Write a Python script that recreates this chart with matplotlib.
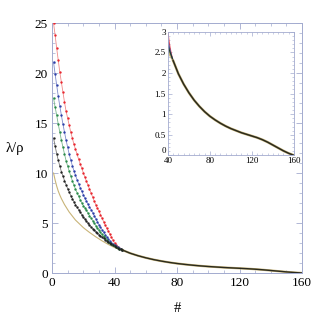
import numpy as np
import matplotlib
matplotlib.use("Agg")
import matplotlib.pyplot as plt
from matplotlib.ticker import MultipleLocator, FuncFormatter

# ---- data ----
t_head = list(range(1, 46))
red = [25.0, 23.8, 22.5, 21.3, 20.1, 19.1, 18.1, 17.1, 16.2, 15.5,
       14.8, 14.1, 13.5, 12.9, 12.4, 11.9, 11.4, 10.95, 10.5, 10.05,
       9.6, 9.2, 8.8, 8.4, 8.0, 7.6, 7.2, 6.85, 6.5, 6.2,
       5.85, 5.5, 5.15, 4.8, 4.5, 4.2, 3.9, 3.6, 3.3, 3.0,
       2.8, 2.63, 2.5, 2.39, 2.3]
blue = [21.1, 19.9, 18.8, 17.7, 16.7, 15.8, 14.9, 14.1, 13.3, 12.6,
        11.9, 11.3, 10.75, 10.25, 9.8, 9.35, 8.95, 8.55, 8.2, 7.85,
        7.5, 7.2, 6.9, 6.6, 6.35, 6.05, 5.75, 5.45, 5.15, 4.85,
        4.6, 4.35, 4.1, 3.85, 3.6, 3.4, 3.2, 3.05, 2.92, 2.8,
        2.68, 2.56, 2.46, 2.38, 2.3]
green = [17.5, 16.6, 15.8, 14.9, 14.1, 13.3, 12.6, 11.9, 11.25, 10.7,
         10.2, 9.7, 9.25, 8.8, 8.4, 8.05, 7.7, 7.35, 7.05, 6.75,
         6.55, 6.3, 6.0, 5.75, 5.5, 5.25, 5.0, 4.75, 4.5, 4.28,
         4.06, 3.86, 3.66, 3.47, 3.3, 3.15, 3.0, 2.88, 2.78, 2.68,
         2.59, 2.51, 2.44, 2.37, 2.3]
black = [13.5, 12.7, 11.95, 11.3, 10.7, 10.15, 9.7, 9.25, 8.85, 8.45,
         8.1, 7.75, 7.45, 7.15, 6.85, 6.6, 6.35, 6.1, 5.85, 5.6,
         5.4, 5.2, 5.0, 4.8, 4.6, 4.45, 4.3, 4.15, 4.0, 3.85,
         3.72, 3.6, 3.47, 3.35, 3.22, 3.1, 2.98, 2.88, 2.78, 2.68,
         2.59, 2.51, 2.44, 2.37, 2.3]
tan = [10.0, 9.3, 8.7, 8.2, 7.8, 7.45, 7.15, 6.85, 6.6, 6.35,
       6.1, 5.9, 5.7, 5.5, 5.3, 5.15, 5.0, 4.85, 4.7, 4.55,
       4.42, 4.3, 4.18, 4.06, 3.95, 3.84, 3.73, 3.62, 3.52, 3.42,
       3.32, 3.22, 3.13, 3.04, 2.95, 2.86, 2.78, 2.7, 2.62, 2.55,
       2.49, 2.43, 2.38, 2.34, 2.3]
t_tail = [45, 50, 55, 60, 65, 70, 75, 80, 85, 90, 95, 100, 105, 110,
          115, 120, 125, 130, 135, 140, 145, 150, 155, 160]
tail = [2.3, 1.98, 1.73, 1.52, 1.34, 1.19, 1.06, 0.95, 0.86, 0.78, 0.71,
        0.65, 0.6, 0.55, 0.51, 0.47, 0.43, 0.38, 0.32, 0.25, 0.18, 0.11,
        0.05, 0.0]

main_xticks = [0, 40, 80, 120, 160]
main_yticks = [0, 5, 10, 15, 20, 25]
inset_xticks = [40, 80, 120, 160]
inset_yticks = [0, 0.5, 1, 1.5, 2, 2.5, 3]

marked = [(red, '#e8262e', '#f08a8a'),
          (blue, '#2c3ea8', '#7f8ccc'),
          (green, '#2a8a4a', '#7ab88e'),
          (black, '#222222', '#777777')]

plt.rcParams['font.family'] = ['Liberation Serif', 'DejaVu Serif']
frame_col = '#a3abcf'

fig = plt.figure(figsize=(3.15, 3.25), dpi=100)
ax = fig.add_axes([0.165, 0.160, 0.794, 0.769])

ax.plot(t_head, tan, color='#c8b478', lw=0.8, zorder=2)
for vals, mc, lc in marked:
    ax.plot(t_head, vals, color=lc, lw=0.6, zorder=3)
    ax.plot(t_head, vals, ls='none', marker='o', ms=1.7, mfc=mc, mec=mc,
            mew=0, zorder=4)
ax.plot(t_tail, tail, color='#c8b478', lw=1.6, zorder=2)
ax.plot(t_tail, tail, color='#2a2a1e', lw=1.0, zorder=5)

ax.set_xlim(0, 160)
ax.set_ylim(0, 25)
ax.set_xticks(main_xticks)
ax.set_yticks(main_yticks)
ax.xaxis.set_minor_locator(MultipleLocator(10))
ax.yaxis.set_minor_locator(MultipleLocator(1))
ax.tick_params(which='both', direction='in', top=True, right=True,
               color=frame_col, labelsize=9.5, pad=3)
ax.tick_params(which='major', length=4, width=0.6)
ax.tick_params(which='minor', length=2, width=0.5)
for s in ax.spines.values():
    s.set_color(frame_col)
    s.set_linewidth(0.7)
ax.set_ylabel('λ/ρ', rotation=0, fontsize=10.5, labelpad=14, va='center')
ax.set_xlabel('#', fontsize=10.5, labelpad=9)

# ---- inset ----
ins = fig.add_axes([0.533, 0.522, 0.400, 0.380])
ins.plot(t_head[39:], tan[39:], color='#c8b478', lw=1.2)
for vals, mc, lc in marked:
    ins.plot(t_head[39:], vals[39:], color=mc, lw=0.8, alpha=0.8)
ins.plot(t_tail, tail, color='#c8b478', lw=1.8)
ins.plot(t_tail, tail, color='#2a2a1e', lw=1.1)
ins.set_xlim(40, 160)
ins.set_ylim(0, 3)
ins.set_xticks(inset_xticks)
ins.set_yticks(inset_yticks)
ins.xaxis.set_minor_locator(MultipleLocator(5))
ins.yaxis.set_minor_locator(MultipleLocator(0.1))
ins.yaxis.set_major_formatter(FuncFormatter(lambda v, p: f'{v:g}'))
ins.tick_params(which='both', direction='in', top=True, right=True,
                color=frame_col, labelsize=6.5, pad=1.5)
ins.tick_params(axis='x', pad=1.0)
ins.tick_params(which='major', length=3, width=0.5)
ins.tick_params(which='minor', length=1.5, width=0.4)
for s in ins.spines.values():
    s.set_color(frame_col)
    s.set_linewidth(0.6)
fig.canvas.draw()
ins.get_yticklabels()[0].set_va('bottom')

fig.savefig('out.png', dpi=100)
